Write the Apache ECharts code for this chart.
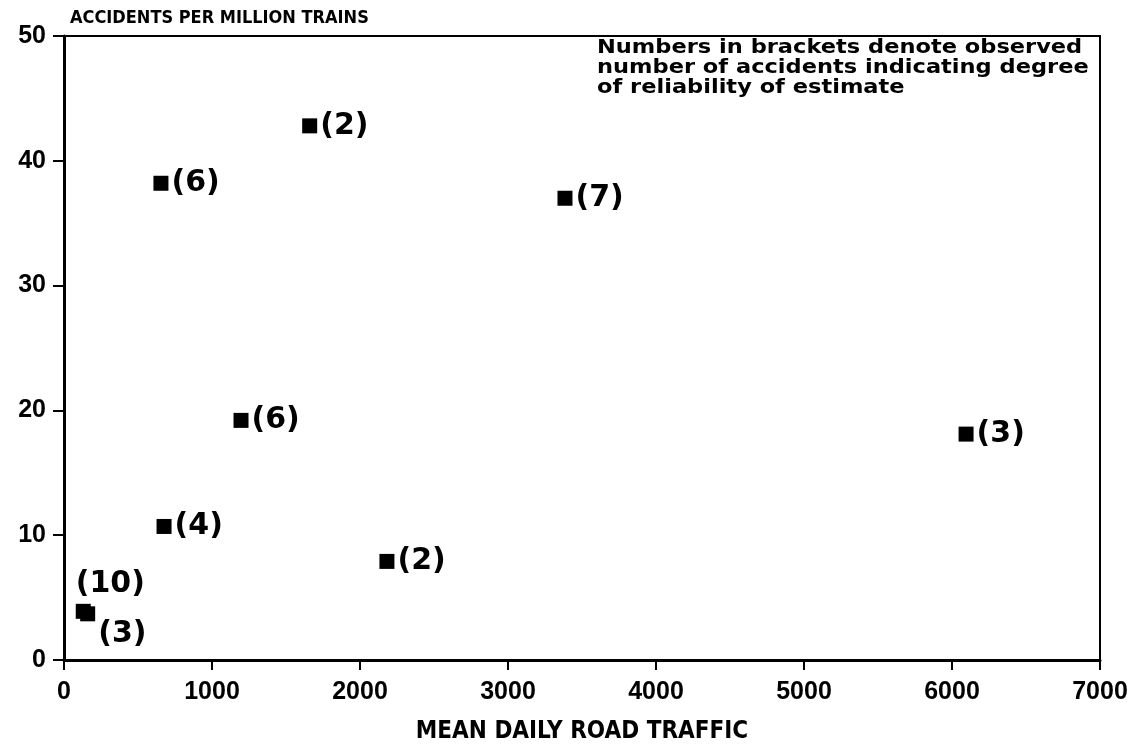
<!DOCTYPE html>
<html>
<head>
<meta charset="utf-8">
<script src="https://cdn.jsdelivr.net/npm/echarts@6/dist/echarts.min.js"></script>
<style>
html,body{margin:0;padding:0;background:#fff;}
#chart{width:1137px;height:749px;}
</style>
</head>
<body>
<div id="chart"></div>
<script>
// Data
const traffic   = [1660, 655, 3385, 1196, 6095, 676, 2182, 130, 160];
const accidents = [42.8, 38.2, 37.0, 19.2, 18.1, 10.7, 7.9, 3.9, 3.7];
const observed  = [2, 6, 7, 6, 3, 4, 2, 10, 3];
const xTicks = [0, 1000, 2000, 3000, 4000, 5000, 6000, 7000];
const yTicks = [0, 10, 20, 30, 40, 50];
const xTitle = 'MEAN DAILY ROAD TRAFFIC';
const yTitle = 'ACCIDENTS PER MILLION TRAINS';
const note = ['Numbers in brackets denote observed', 'number of accidents indicating degree', 'of reliability of estimate'];

const labelFont = 'DejaVu Sans, sans-serif';
const tickFont = "'Liberation Sans', Arial, sans-serif";
const labelOffsets = [null,null,null,null,null,null,null,[-18,-27],[0,20]];

const points = traffic.map((x, i) => {
  const d = { value: [x, accidents[i]] };
  if (labelOffsets[i]) d.label = { offset: labelOffsets[i] };
  return d;
});

const chart = echarts.init(document.getElementById('chart'));
chart.setOption({
  backgroundColor: '#fff',
  animation: false,
  grid: { left: 64, right: 37, top: 36, bottom: 84, show: true, borderColor: '#000', borderWidth: 2, backgroundColor: 'transparent' },
  graphic: [{
    type: 'text',
    x: 597, y: 38,
    scaleX: 1.185,
    style: {
      text: note.join('\n'),
      font: 'bold 19px "DejaVu Sans", sans-serif',
      lineHeight: 20,
      fill: '#000',
      verticalAlign: 'top',
      align: 'left'
    }
  }],
  xAxis: {
    type: 'value', min: xTicks[0], max: xTicks[xTicks.length-1], interval: 1000,
    name: xTitle, nameLocation: 'middle', nameGap: 60,
    nameTextStyle: { fontFamily: "'Liberation Sans Narrow', 'DejaVu Sans Condensed', sans-serif", fontWeight: 'bold', fontSize: 24, color: '#000' },
    axisLine: { lineStyle: { color: '#000', width: 3 } },
    axisTick: { show: true, inside: false, length: 10, lineStyle: { color: '#000', width: 2 } },
    axisLabel: { fontFamily: tickFont, fontWeight: 'bold', fontSize: 25, color: '#000', margin: 20, formatter: v => String(v) },
    splitLine: { show: false }
  },
  yAxis: {
    type: 'value', min: yTicks[0], max: yTicks[yTicks.length-1], interval: 10,
    name: yTitle, nameLocation: 'end', nameGap: 9,
    nameTextStyle: { fontFamily: "'Liberation Sans Narrow', 'DejaVu Sans Condensed', sans-serif", fontWeight: 'bold', fontSize: 18, color: '#000', align: 'left', padding: [0, 0, 0, 6] },
    axisLine: { lineStyle: { color: '#000', width: 3 } },
    axisTick: { show: true, inside: false, length: 11, lineStyle: { color: '#000', width: 2 } },
    axisLabel: { fontFamily: tickFont, fontWeight: 'bold', fontSize: 25, color: '#000', margin: 18 },
    splitLine: { show: false }
  },
  series: [{
    type: 'scatter',
    symbol: 'rect',
    symbolSize: 15,
    itemStyle: { color: '#000', opacity: 1 },
    data: points,
    label: {
      show: true, position: 'right', distance: 3,
      formatter: p => '(' + observed[p.dataIndex] + ')',
      fontFamily: labelFont, fontWeight: 'bold', fontSize: 30, color: '#000'
    }
  }]
});
</script>
</body>
</html>
